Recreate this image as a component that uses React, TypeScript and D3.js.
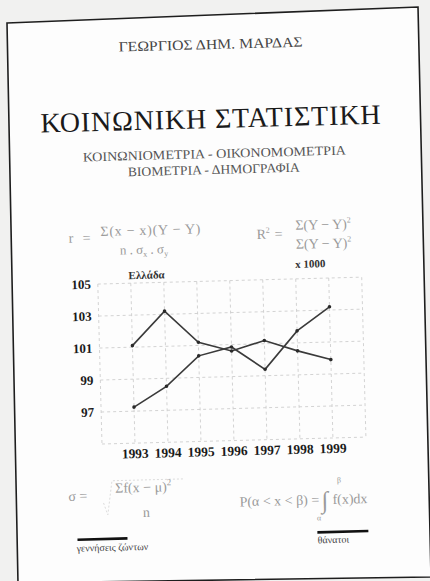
import * as d3 from "d3";

// data (thousands)
const years = ["1993", "1994", "1995", "1996", "1997", "1998", "1999"];
const births = [101.1, 103.2, 101.2, 100.6, 101.2, 100.5, 99.9];
const deaths = [97.25, 98.5, 100.35, 100.85, 99.4, 101.75, 103.2];
const yTicks = [105, 103, 101, 99, 97];
const gridValues = [95, 97, 99, 101, 103, 105];

const W = 430;
const H = 581;
const font = "'Liberation Serif', 'DejaVu Serif', serif";

export default function App() {
  const chart = { left: 98, right: 362, top: 281, bottom: 441 };

  const x = d3
    .scalePoint()
    .domain(years)
    .range([chart.left, chart.right])
    .padding(1);
  const y = d3.scaleLinear().domain([95, 105]).range([chart.bottom, chart.top]);

  const line = d3
    .line<number>()
    .x((_, i) => x(years[i]) as number)
    .y((d) => y(d));

  const series = [births, deaths];
  const vLines = [chart.left, ...years.map((yr) => x(yr) as number), chart.right];

  // page outline of the photographed cover
  const outline = "M7,23 L418,7 L431,577 L18,583 Z";

  return (
    <svg
      width={W}
      height={H}
      style={{ position: "absolute", left: 0, top: 0 }}
      fontFamily={font}
    >
      <rect width={W} height={H} fill="#f1f1f0" />
      <path d={outline} fill="#fdfdfd" stroke="#1e1e1e" strokeWidth={1.6} />

      <g transform="rotate(-1.5, 215, 290)">
        {/* header */}
        <text x={217} y={49} textAnchor="middle" fontSize={14} fill="#444"
          textLength={184} lengthAdjust="spacingAndGlyphs">
          ΓΕΩΡΓΙΟΣ ΔΗΜ. ΜΑΡΔΑΣ
        </text>
        <text x={215} y={128} textAnchor="middle" fontSize={28} fill="#1a1a1a"
          textLength={340} lengthAdjust="spacing">
          ΚΟΙΝΩΝΙΚΗ ΣΤΑΤΙΣΤΙΚΗ
        </text>
        <text x={218} y={158} textAnchor="middle" fontSize={13} fill="#555"
          textLength={263} lengthAdjust="spacingAndGlyphs">
          ΚΟΙΝΩΝΙΟΜΕΤΡΙΑ - ΟΙΚΟΝΟΜΟΜΕΤΡΙΑ
        </text>
        <text x={217} y={174} textAnchor="middle" fontSize={13} fill="#555"
          textLength={172} lengthAdjust="spacingAndGlyphs">
          ΒΙΟΜΕΤΡΙΑ - ΔΗΜΟΓΡΑΦΙΑ
        </text>

        {/* formulas top */}
        <g fill="#9a9a9a" fontSize={14}>
          <text x={70} y={239}>r</text>
          <text x={84} y={239}>=</text>
          <text x={102} y={233} textLength={100} lengthAdjust="spacing">
            Σ(x − x)(Y − Y)
          </text>
          <text x={121} y={252} fontSize={13}>
            n . σ<tspan fontSize={8} dy={3}>x</tspan>
            <tspan dy={-3}> . σ</tspan>
            <tspan fontSize={8} dy={3}>y</tspan>
          </text>

          <text x={258} y={240}>
            R<tspan fontSize={8} dy={-6}>2</tspan>
          </text>
          <text x={276} y={240}>=</text>
          <text x={297} y={232}>
            Σ(Y − Y)<tspan fontSize={8} dy={-6}>2</tspan>
          </text>
          <text x={297} y={251}>
            Σ(Y − Y)<tspan fontSize={8} dy={-6}>2</tspan>
          </text>
        </g>

        {/* chart labels */}
        <text x={147} y={277} textAnchor="middle" fontSize={11} fontWeight="bold" fill="#333">
          Ελλάδα
        </text>
        <text x={311} y={270} textAnchor="middle" fontSize={11} fontWeight="bold" fill="#333">
          x 1000
        </text>

        {/* grid */}
        <g stroke="#c8c8c8" strokeWidth={0.8} strokeDasharray="3,3">
          {gridValues.map((v) => (
            <line key={v} x1={chart.left} x2={chart.right} y1={y(v)} y2={y(v)} />
          ))}
          {vLines.map((vx, i) => (
            <line key={i} x1={vx} x2={vx} y1={chart.top} y2={chart.bottom} />
          ))}
        </g>

        {/* y tick labels */}
        {yTicks.map((v) => (
          <text key={v} x={91} y={y(v) + 4.5} textAnchor="end" fontSize={13}
            fontWeight="bold" fill="#1a1a1a">
            {v}
          </text>
        ))}

        {/* x tick labels */}
        {years.map((yr) => (
          <text key={yr} x={x(yr)} y={456} textAnchor="middle" fontSize={13.5}
            fontWeight="bold" fill="#1a1a1a">
            {yr}
          </text>
        ))}

        {/* series */}
        {series.map((s, si) => (
          <g key={si}>
            <path d={line(s) ?? ""} fill="none" stroke="#3a3a3a" strokeWidth={1.6} />
            {s.map((v, i) => (
              <circle key={i} cx={x(years[i])} cy={y(v)} r={1.8} fill="#2a2a2a" />
            ))}
          </g>
        ))}

        {/* formulas bottom */}
        <g fill="#9a9a9a" fontSize={14}>
          <text x={63} y={497}>σ =</text>
          <path d="M98,500 L102,512 L107,478 L180,478" fill="none" stroke="#d4d4d4"
            strokeWidth={0.8} strokeDasharray="2,2" />
          <text x={110} y={490}>
            Σf(x − μ)<tspan fontSize={9} dy={-6}>2</tspan>
          </text>
          <text x={137} y={515}>n</text>

          <text x={234} y={507}>P(α &lt; x &lt; β) =</text>
          <text x={316} y={511} fontSize={24}>∫</text>
          <text x={332} y={486} fontSize={8}>β</text>
          <text x={311} y={523} fontSize={8}>α</text>
          <text x={327} y={507}>f(x)dx</text>
        </g>

        {/* legend */}
        <line x1={71} x2={121} y1={536} y2={536} stroke="#111" strokeWidth={2.6} />
        <text x={70} y={548} fontSize={10} fill="#444">γεννήσεις ζώντων</text>
        <line x1={311} x2={362} y1={535} y2={535} stroke="#111" strokeWidth={2.6} />
        <text x={311} y={546} fontSize={10} fill="#444">θάνατοι</text>
      </g>
    </svg>
  );
}
